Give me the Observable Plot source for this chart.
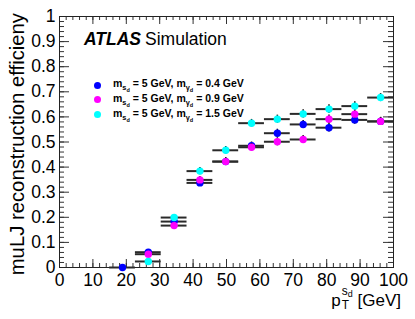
<!DOCTYPE html>
<html><head><meta charset="utf-8">
<script src="https://cdn.jsdelivr.net/npm/d3@7"></script>
<script src="https://cdn.jsdelivr.net/npm/@observablehq/plot@0.6"></script>
<style>
body{margin:0;background:#fff;}
#wrap{position:relative;width:415px;height:319px;overflow:hidden;font-family:"Liberation Sans",Arial,Helvetica,sans-serif;color:#000;}
#wrap svg{position:absolute;left:0;top:0;}
.ov{position:absolute;white-space:nowrap;}
</style></head><body><div id="wrap"></div>
<script>
// ---- data ----
const binEdges = [15, 22.73, 30.45, 38.18, 45.91, 53.64, 61.36, 69.09, 76.82, 84.55, 92.27, 100];
const massSd = [5, 5, 5];
const massGd = [0.4, 0.9, 1.5];
const seriesColors = ["#0000ff", "#ff00ff", "#00ffff"];
const eff04 = [0.000, 0.061, 0.183, 0.337, 0.422, 0.485, 0.535, 0.570, 0.557, 0.588, 0.582];
const eff09 = [null, 0.053, 0.167, 0.349, 0.422, 0.479, 0.501, 0.510, 0.591, 0.611, 0.582];
const eff15 = [null, 0.024, 0.199, 0.384, 0.467, 0.575, 0.591, 0.612, 0.631, 0.643, 0.677];
const err04 = [0.004, 0.008, 0.012, 0.014, 0.015, 0.015, 0.016, 0.016, 0.017, 0.017, 0.016];
const err09 = [0.004, 0.008, 0.012, 0.014, 0.015, 0.015, 0.016, 0.016, 0.017, 0.017, 0.016];
const err15 = [0.004, 0.006, 0.012, 0.014, 0.015, 0.015, 0.016, 0.016, 0.017, 0.017, 0.016];
const xMajor = [0, 10, 20, 30, 40, 50, 60, 70, 80, 90, 100];
const yMajor = [0, 0.1, 0.2, 0.3, 0.4, 0.5, 0.6, 0.7, 0.8, 0.9, 1];
const xTitleMain = "p", xTitleSub = "T", xTitleSup = "s", xTitleSupSub = "d", xTitleUnit = "[GeV]";
const yTitle = "muLJ reconstruction efficieny";

const allEff = [eff04, eff09, eff15];
const allErr = [err04, err09, err15];
const rows = [];
allEff.forEach((arr, s) => arr.forEach((v, i) => {
  if (v == null) return;
  rows.push({s, lo: binEdges[i], hi: binEdges[i+1], c: (binEdges[i] + binEdges[i+1]) / 2,
             v, e1: v - allErr[s][i], e2: v + allErr[s][i]});
}));
const xMinor = d3.range(0, 101, 2);
const yMinor = d3.range(0, 51).map(k => k / 50);

const W = 415, H = 319, mL = 59, mR = 22, mT = 16, mB = 52;
const pw = W - mL - mR, ph = H - mT - mB;
const tickCol = "#333";
const xMajLen = 8, xMinLen = 4, yMajLen = 10, yMinLen = 5;

const marks = [];
// ticks on all four sides, pointing inward
marks.push(Plot.tickX(xMinor, {x: d => d, stroke: tickCol, insetTop: ph - xMinLen}));
marks.push(Plot.tickX(xMajor, {x: d => d, stroke: tickCol, insetTop: ph - xMajLen}));
marks.push(Plot.tickX(xMinor, {x: d => d, stroke: tickCol, insetBottom: ph - xMinLen}));
marks.push(Plot.tickX(xMajor, {x: d => d, stroke: tickCol, insetBottom: ph - xMajLen}));
marks.push(Plot.tickY(yMinor, {y: d => d, stroke: tickCol, insetRight: pw - yMinLen}));
marks.push(Plot.tickY(yMajor, {y: d => d, stroke: tickCol, insetRight: pw - yMajLen}));
marks.push(Plot.tickY(yMinor, {y: d => d, stroke: tickCol, insetLeft: pw - yMinLen}));
marks.push(Plot.tickY(yMajor, {y: d => d, stroke: tickCol, insetLeft: pw - yMajLen}));
marks.push(Plot.frame({stroke: "#222"}));
marks.push(Plot.axisX(xMajor, {tickSize: 0, tickPadding: 6, fontSize: 17.5, tickFormat: d => String(d), label: null}));
marks.push(Plot.axisY(yMajor, {tickSize: 0, tickPadding: 4, fontSize: 17.5, tickFormat: d => String(d), label: null}));
for (let s = 0; s < 3; s++) {
  const d = rows.filter(r => r.s === s);
  marks.push(Plot.ruleY(d, {y: "v", x1: "lo", x2: "hi", stroke: "#2a2a2a", strokeWidth: 2}));
  marks.push(Plot.ruleX(d, {x: "c", y1: "e1", y2: "e2", stroke: "#111", strokeWidth: 1.5}));
  marks.push(Plot.dot(d, {x: "c", y: "v", r: 3.7, fill: seriesColors[s], stroke: "none"}));
}

const chart = Plot.plot({
  width: W, height: H, marginLeft: mL, marginRight: mR, marginTop: mT, marginBottom: mB,
  x: {domain: [0, 100]}, y: {domain: [0, 1]},
  style: {fontFamily: '"Liberation Sans",Arial,Helvetica,sans-serif', color: "#000", background: "white", overflow: "visible"},
  marks
});
const wrap = document.getElementById("wrap");
wrap.appendChild(chart);

function ov(html, css) {
  const d = document.createElement("div");
  d.className = "ov";
  d.innerHTML = html;
  Object.assign(d.style, css);
  wrap.appendChild(d);
  return d;
}
// ATLAS label
ov('<span style="font-weight:bold;font-style:italic">ATLAS</span><span style="margin-left:4px">Simulation</span>',
   {left: "84px", top: "31px", fontSize: "17.5px", lineHeight: "17.5px"});
// legend
const legTop = [85, 99.5, 114.5];
massGd.forEach((g, i) => {
  ov(`<span style="display:inline-block;width:7px;height:7px;border-radius:50%;background:${seriesColors[i]}"></span>`,
     {left: "94px", top: (legTop[i] - 3.5) + "px", lineHeight: "7px", fontSize: "7px"});
  ov(`m<span style="font-size:70%;position:relative;top:3px">s<span style="font-size:75%;position:relative;top:2px">d</span></span> = ${massSd[i]} GeV, m<span style="font-size:70%;position:relative;top:3px">γ<span style="font-size:75%;position:relative;top:2px">d</span></span> = ${g} GeV`,
     {left: "113px", top: (legTop[i] - 8) + "px", fontSize: "10.5px", lineHeight: "12px", fontWeight: "bold"});
});
// y title
ov(yTitle, {left: "7px", top: "277px", width: "264px", textAlign: "right", fontSize: "20.3px", lineHeight: "20px",
  transformOrigin: "0 0", transform: "rotate(-90deg)"});
// x title
ov(`${xTitleMain}<span style="display:inline-block;position:relative;width:12px;height:1em;">` +
   `<span style="position:absolute;left:1px;top:-6px;font-size:70%">${xTitleSup}<span style="font-size:75%;position:relative;top:2px">${xTitleSupSub}</span></span>` +
   `<span style="position:absolute;left:1px;top:8px;font-size:70%">${xTitleSub}</span></span> ${xTitleUnit}`,
   {right: "14px", top: "289px", fontSize: "17px", lineHeight: "17px"});
</script>
</body></html>
